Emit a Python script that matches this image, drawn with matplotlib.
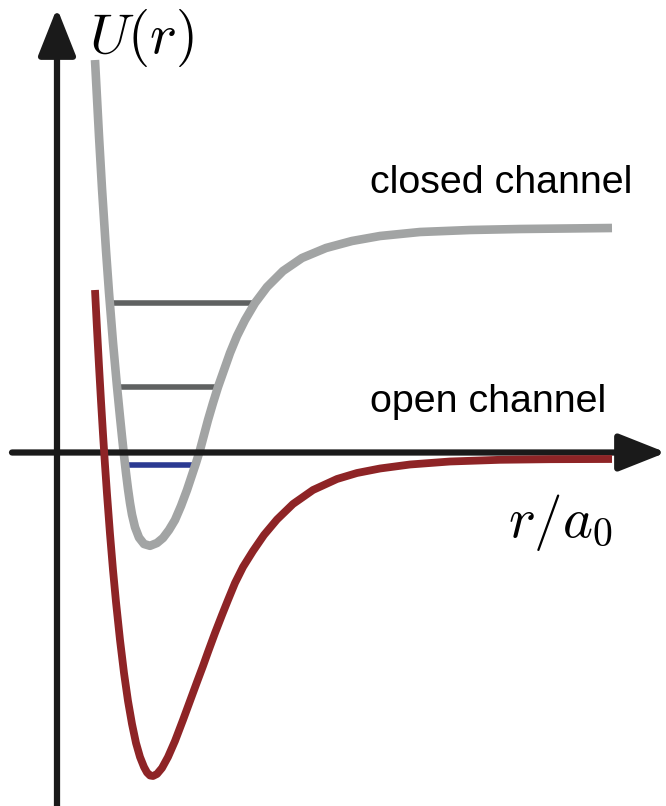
import matplotlib.pyplot as plt

plt.rcParams['mathtext.fontset'] = 'cm'

# potential curves, r and U in the same arbitrary units (origin at the axis crossing)
closed_r = [38, 42, 45, 49, 52, 56, 60, 63, 65, 67, 69, 71, 73, 75, 78, 82, 87, 93,
            100, 106, 112, 118, 124, 130, 135, 139, 143, 147, 151, 156, 161, 167,
            173, 180, 188, 198, 210, 226, 245, 269, 295, 323, 363, 413, 463, 555]
closed_U = [393, 317, 264.5, 202.5, 160.5, 110.5, 66.5, 36, 16.4, -2.4, -20, -36,
            -50, -61.6, -74.2, -84.6, -91, -92.8,
            -90, -85, -77, -67, -53, -37, -22, -10, 3, 18, 33, 50, 66, 83, 100, 117,
            133, 150, 166, 182, 195, 205, 212, 217, 221, 223, 224, 225]

open_r = [38, 40, 42, 44, 46, 48, 50, 53, 56, 59, 63, 67, 71, 75, 79, 83, 87, 90, 93,
          96, 100, 105, 111, 118, 126, 133, 140, 146, 151, 158, 165, 171, 178, 186,
          196, 207, 220, 236, 256, 280, 300, 323, 353, 393, 443, 493, 555]
open_U = [163, 124, 87, 52, 19, -12, -41, -81, -117, -149, -187, -220, -248, -271,
          -290, -304, -314, -319.5, -322.5, -323,
          -321, -315, -304, -288, -267, -248, -229, -213, -199, -180, -162, -147,
          -130, -114, -98, -82, -66.5, -51, -37, -26, -20, -15.5, -11.5, -8.5, -6.8,
          -6.2, -6]

# bound states of the closed channel: (energy, r_left, r_right)
bound_levels = [(150, 53, 198), (66, 60, 161)]
resonant_level = (-12, 68, 138)

GRAY = '#a2a4a4'
LEVEL = '#5f6161'
BLUE = '#2b3a92'
RED = '#8e2426'
AXIS = '#1a1a1a'

fig = plt.figure(figsize=(6.66, 8.06), dpi=100)
ax = fig.add_axes([0, 0, 1, 1])
ax.set_xlim(-57, 609)
ax.set_ylim(-353, 453)
ax.axis('off')

# axes with arrow heads
arrow = dict(arrowstyle='-|>,head_length=2.9,head_width=1.15', mutation_scale=10,
             lw=4.5, color=AXIS, shrinkA=0, shrinkB=0)
ax.annotate('', xy=(0, 445), xytext=(0, -360), arrowprops=arrow, zorder=4)
ax.annotate('', xy=(609, 0.5), xytext=(-45, 0.5), arrowprops=arrow, zorder=4)

for u, r0, r1 in bound_levels:
    ax.plot([r0, r1], [u, u], color=LEVEL, lw=4.0, solid_capstyle='butt', zorder=2)
u, r0, r1 = resonant_level
ax.plot([r0, r1], [u, u], color=BLUE, lw=4.0, solid_capstyle='butt', zorder=2)

ax.plot(closed_r, closed_U, color=GRAY, lw=6.2, solid_capstyle='butt',
        solid_joinstyle='round', zorder=3)
ax.plot(open_r, open_U, color=RED, lw=5.6, solid_capstyle='butt',
        solid_joinstyle='round', zorder=5)

ax.text(32, 400, r'$U(r)$', fontsize=41, va='baseline', ha='left')
ax.text(451, -84, r'$r/a_0$', fontsize=41, va='baseline', ha='left')
ax.text(313, 260, 'closed channel', fontsize=28.4, family='Liberation Sans',
        va='baseline', ha='left')
ax.text(313, 41, 'open channel', fontsize=28.4, family='Liberation Sans',
        va='baseline', ha='left')

fig.savefig('out.png', dpi=100)
